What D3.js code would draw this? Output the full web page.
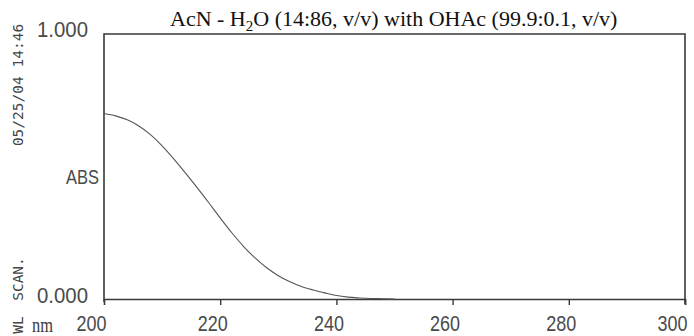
<!DOCTYPE html>
<html>
<head>
<meta charset="utf-8">
<script src="https://cdn.jsdelivr.net/npm/d3@7"></script>
<style>
  html, body { margin: 0; padding: 0; background: #fff; }
  svg { display: block; }
</style>
</head>
<body>
<svg id="chart" width="694" height="336"></svg>
<script>
// UV absorbance scan, 200–300 nm
const wavelengths = [200, 202, 204, 206, 208, 210, 212, 214, 216, 218, 220, 222, 224,
                     226, 228, 230, 232, 234, 236, 238, 240, 242, 244, 246, 248, 250];
const absorbance  = [0.700, 0.691, 0.676, 0.653, 0.620, 0.578, 0.529, 0.476, 0.421, 0.364,
                     0.306, 0.250, 0.199, 0.155, 0.118, 0.088, 0.065, 0.047, 0.034, 0.023,
                     0.013, 0.007, 0.004, 0.002, 0.001, 0.000];
const xTicks = [200, 220, 240, 260, 280, 300];
const yTicks = [0, 1];
const titleText = ["AcN - H", "2", "O (14:86, v/v) with OHAc (99.9:0.1, v/v)"];

const svg = d3.select("#chart");
const x = d3.scaleLinear().domain([200, 300]).range([104, 685]);
const y = d3.scaleLinear().domain([0, 1]).range([299, 34]);

const ink = "#3a3a3a";
const numInk = "#4a4a4a";
const numFont = "'Liberation Sans', Arial, sans-serif";

// frame: left, top and right border
svg.append("path")
  .attr("d", `M${x(200)},${y(0)+3}V${y(1)}H${x(300)}V${y(0)+5}`)
  .attr("fill", "none").attr("stroke", ink).attr("stroke-width", 1.6);

// bottom axis
const xAxis = svg.append("g")
  .attr("transform", `translate(0,${y(0)})`)
  .call(d3.axisBottom(x).tickValues(xTicks).tickSize(6).tickPadding(10)
          .tickFormat(d3.format("d")));
xAxis.select(".domain").attr("stroke", ink).attr("stroke-width", 1.6);
xAxis.selectAll(".tick line").attr("stroke", ink).attr("stroke-width", 1.4)
  .attr("display", d => (d === 200 ? "none" : null));
xAxis.selectAll(".tick text")
  .attr("fill", numInk)
  .style("font-family", numFont).style("font-size", "22px")
  .attr("textLength", 30).attr("lengthAdjust", "spacingAndGlyphs")
  .attr("dx", d => (d === 200 ? -13 : d === 300 ? -13 : -8))
  .attr("dy", "0.72em");

// left axis values
const yAxis = svg.append("g")
  .attr("transform", `translate(${x(200)},0)`)
  .call(d3.axisLeft(y).tickValues(yTicks).tickSize(0).tickPadding(16)
          .tickFormat(d3.format(".3f")));
yAxis.select(".domain").remove();
yAxis.selectAll(".tick text")
  .attr("fill", numInk)
  .style("font-family", numFont).style("font-size", "22px")
  .attr("textLength", 51).attr("lengthAdjust", "spacingAndGlyphs")
  .attr("dy", d => (d === 1 ? "0.1em" : "0.14em"));

// axis titles
svg.append("text")
  .attr("x", x(200) - 5).attr("y", 184)
  .attr("text-anchor", "end")
  .attr("fill", numInk)
  .style("font-family", numFont).style("font-size", "21px")
  .attr("textLength", 33).attr("lengthAdjust", "spacingAndGlyphs")
  .text("ABS");

svg.append("text")
  .attr("x", 32).attr("y", 332)
  .attr("fill", ink)
  .style("font-family", "'Liberation Serif', serif").style("font-size", "21px")
  .attr("textLength", 21).attr("lengthAdjust", "spacingAndGlyphs")
  .text("nm");

// rotated instrument stamps
const stamp = (txt, cy) => svg.append("text")
  .attr("transform", `translate(23,${cy}) rotate(-90)`)
  .attr("text-anchor", "middle")
  .attr("fill", "#444")
  .style("font-family", "'DejaVu Sans Mono', monospace").style("font-size", "14.5px")
  .text(txt);
stamp("05/25/04  14:46", 85);
stamp("SCAN.", 279);
stamp("WL", 325);

// title with subscript
const title = svg.append("text")
  .attr("x", 170).attr("y", 26)
  .attr("fill", "#111")
  .style("font-family", "'Liberation Serif', 'Times New Roman', serif")
  .style("font-size", "22px");
title.append("tspan").text(titleText[0]);
title.append("tspan").attr("dy", 5).style("font-size", "15px").text(titleText[1]);
title.append("tspan").attr("dy", -5).text(titleText[2]);

// absorbance curve
const line = d3.line()
  .x((d, i) => x(wavelengths[i]))
  .y(d => y(d))
  .curve(d3.curveMonotoneX);
svg.append("path")
  .datum(absorbance)
  .attr("d", line)
  .attr("fill", "none")
  .attr("stroke", "#555")
  .attr("stroke-width", 1.1);
</script>
</body>
</html>
